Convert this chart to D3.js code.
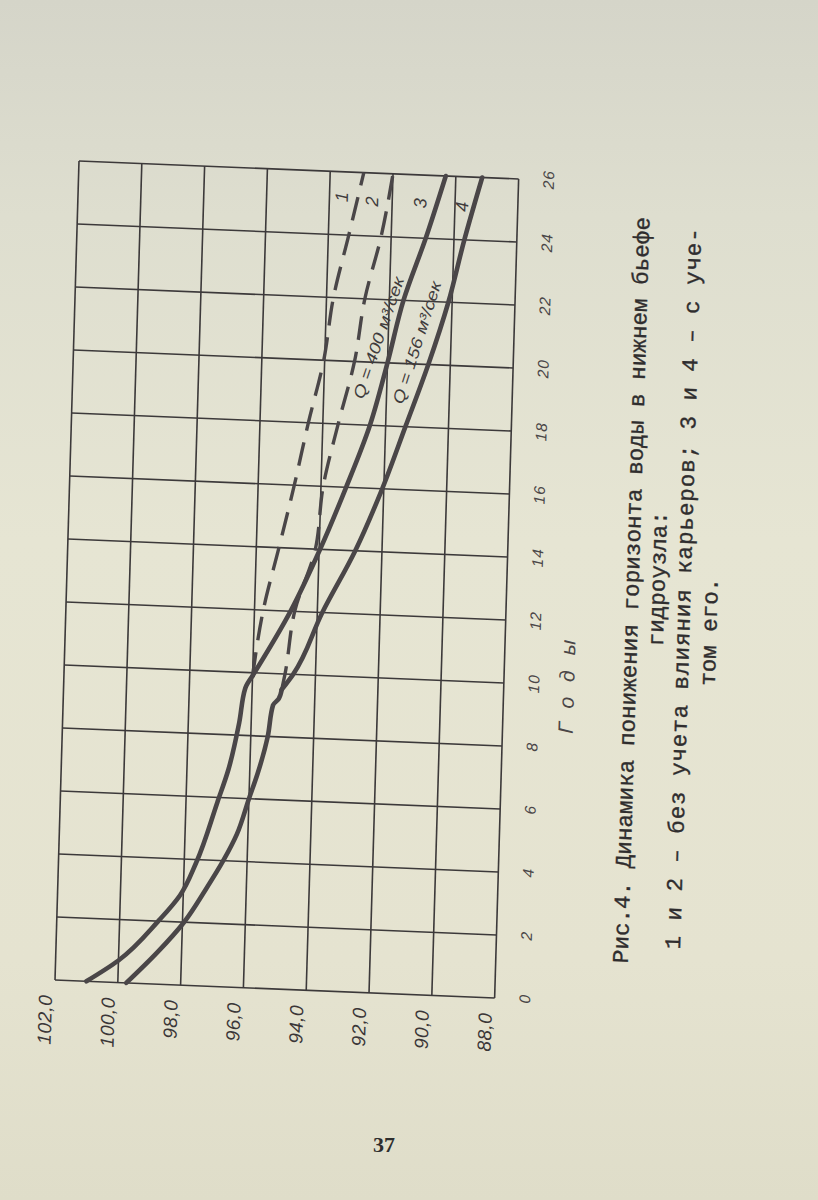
<!DOCTYPE html>
<html><head><meta charset="utf-8">
<script src="https://cdn.jsdelivr.net/npm/d3@7"></script>
<style>html,body{margin:0;padding:0;background:#e4e3d1;} svg{display:block}</style>
</head><body><svg id="c" width="818" height="1200"></svg>
<script>
// ---- data ----
const yearTicks = [0,2,4,6,8,10,12,14,16,18,20,22,24,26];
const levelTicks = [102,100,98,96,94,92,90,88];
const levelTickLabels = ["102,0","100,0","98,0","96,0","94,0","92,0","90,0","88,0"];
const axisTitle = "Годы";

// curve 3 (solid) – upper line, kink at 9.9 where dashed 1 leaves
const curve3Years  = [0,0.7,2,2.85,3.9,5.85,6.9,8.4,9.5,9.9,12,14,16,18,20,22,24,26];
const curve3Levels = [101.0,100.0,98.77,98.1,97.62,97.0,96.68,96.38,96.22,96.0,94.85,93.97,93.2,92.5,92.0,91.55,90.9,90.32];
const curve3Kink = 9.9;
// curve 1 (dashed) – branches from curve 3
const curve1Years  = [9.9,12,14,16,18,20,22,24,26];
const curve1Levels = [96.0,95.72,95.28,94.85,94.46,94.03,93.78,93.35,92.93];
// curve 4 (solid) – lower line, kink at 9.5 where dashed 2 leaves
const curve4Years  = [0,1,2,3.05,4,4.86,6,6.8,8,9.0,9.2,9.5,10,12,14,16,18,20,22,24,26];
const curve4Levels = [99.73,98.78,97.95,97.3,96.76,96.35,96.0,95.75,95.46,95.32,95.15,95.06,94.71,93.84,92.85,92.05,91.37,90.70,90.12,89.67,89.16];
const curve4Kink = 9.5;
// curve 2 (dashed) – branches from curve 4
const curve2Years  = [9.5,10,12,14,16,18,20,22,24,26];
const curve2Levels = [95.06,94.97,94.72,94.12,93.93,93.51,93.05,92.78,92.32,92.0];

const curveNames = ["1","2","3","4"];
const curveNameYears = [25.2,25.1,25.1,25.05];
const curveNameLevels = [93.61,92.65,91.11,89.78];

const flowLabels = ["Q = 400 м³/сек","Q = 156 м³/сек"];
const flowLabelFrom = [[18.77,92.93],[18.68,91.66]];
const flowLabelTo   = [[22.8,91.69],[22.69,90.51]];

const captionLines = [
  "Рис.4. Динамика понижения горизонта воды в нижнем бьефе",
  "гидроузла:",
  "1 и 2 – без учета влияния карьеров; 3 и 4 – с уче-",
  "том его."
];
const pageNumber = "37";

// ---- drawing ----
const svg = d3.select("#c");
const W = 820, H = 440;
const ink = "#3c393a", curveInk = "#4a4648";

const defs = svg.append("defs");
const grad = defs.append("linearGradient").attr("id","paper").attr("x1",0).attr("y1",0).attr("x2",0).attr("y2",1);
[[0,"#d5d5c9"],[0.18,"#dedecf"],[0.45,"#e6e5d3"],[0.8,"#e5e3d0"],[1,"#dfddc9"]].forEach(([o,c])=>grad.append("stop").attr("offset",o).attr("stop-color",c));
svg.append("rect").attr("width",818).attr("height",1200).attr("fill","url(#paper)");

const g = svg.append("g").attr("transform","matrix(0.02927,-0.99878,0.99916,0.04087,55,980)");

const x = d3.scaleLinear().domain([0,26]).range([0,W]);
const y = d3.scaleLinear().domain([88,102]).range([H,0]);

// grid
const grid = g.append("g").attr("stroke",ink).attr("stroke-width",1.6).attr("fill","none");
grid.selectAll(".gy").data(yearTicks).join("line")
  .attr("x1",d=>x(d)).attr("x2",d=>x(d)).attr("y1",y(102)).attr("y2",y(88));
grid.selectAll(".gl").data(levelTicks).join("line")
  .attr("x1",x(0)).attr("x2",x(26)).attr("y1",d=>y(d)).attr("y2",d=>y(d));

// axes (labels only)
const yAxis = g.append("g").call(d3.axisLeft(y).tickValues(levelTicks).tickSize(0)
    .tickFormat((d,i)=>levelTickLabels[i]));
yAxis.select(".domain").remove();
yAxis.selectAll("text").attr("x",-15).attr("dy","-3px")
  .attr("font-family","Liberation Sans, Arial, sans-serif").attr("font-style","italic")
  .attr("font-size",19).attr("fill","#3a3637").attr("letter-spacing",0.5);

const xAxis = g.append("g").attr("transform",`translate(0,${H})`)
  .call(d3.axisBottom(x).tickValues(yearTicks).tickSize(0));
xAxis.select(".domain").remove();
xAxis.selectAll("text").attr("y",30).attr("dy","0.35em")
  .attr("font-family","Liberation Sans, Arial, sans-serif").attr("font-style","italic")
  .attr("font-size",15.5).attr("fill","#4a4647").attr("letter-spacing",1);

g.append("text").attr("x",x(10.2)).attr("y",H+63).attr("dy","0.35em")
  .attr("text-anchor","middle").attr("font-family","Liberation Sans, Arial, sans-serif")
  .attr("font-style","italic").attr("font-size",21).attr("letter-spacing",15)
  .attr("fill","#4a4647").text(axisTitle);

// curves
const line = d3.line().x(d=>x(d[0])).y(d=>y(d[1])).curve(d3.curveMonotoneX);
function zipped(ys, ls){ return ys.map((v,i)=>[v, ls[i]]); }
function drawSolid(ys, ls, kink){
  const pts = zipped(ys, ls);
  const pre = pts.filter(p=>p[0]<=kink), post = pts.filter(p=>p[0]>=kink);
  [pre, post].forEach(seg=>g.append("path").attr("d",line(seg)).attr("fill","none")
    .attr("stroke",curveInk).attr("stroke-width",4.6).attr("stroke-linecap","round").attr("stroke-linejoin","round"));
}
function drawDashed(ys, ls){
  g.append("path").attr("d",line(zipped(ys, ls))).attr("fill","none")
    .attr("stroke",curveInk).attr("stroke-width",3.4).attr("stroke-dasharray","24,12");
}
drawDashed(curve1Years, curve1Levels);
drawDashed(curve2Years, curve2Levels);
drawSolid(curve3Years, curve3Levels, curve3Kink);
drawSolid(curve4Years, curve4Levels, curve4Kink);

// curve numbers
g.selectAll(".cn").data(curveNames).join("text")
  .attr("x",(d,i)=>x(curveNameYears[i])).attr("y",(d,i)=>y(curveNameLevels[i])).attr("dy","0.35em")
  .attr("text-anchor","middle").attr("font-family","Liberation Sans, Arial, sans-serif")
  .attr("font-style","italic").attr("font-size",18).attr("fill","#3f3b3c").text(d=>d);

// flow labels along the curves
flowLabels.forEach((t,i)=>{
  const [a,b] = [flowLabelFrom[i], flowLabelTo[i]];
  const x1=x(a[0]), y1=y(a[1]), x2=x(b[0]), y2=y(b[1]);
  const ang = Math.atan2(y2-y1, x2-x1)*180/Math.PI;
  g.append("text").attr("transform",`translate(${(x1+x2)/2},${(y1+y2)/2}) rotate(${ang})`)
    .attr("dy","0.35em").attr("text-anchor","middle")
    .attr("font-family","Liberation Sans, Arial, sans-serif").attr("font-style","italic")
    .attr("font-size",16).attr("fill","#3f3b3c")
    .attr("textLength",128).attr("lengthAdjust","spacingAndGlyphs").text(t);
});

// caption (typewritten)
const capX = [40, 426, 56, 375];
const capAnchor = ["start","middle","start","middle"];
const capBase = [572, 598, 624, 651];
const capLen = [747, null, 722, null];
captionLines.forEach((t,i)=>{
  const tx = g.append("text").attr("x",capX[i]).attr("y",capBase[i]).attr("text-anchor",capAnchor[i])
    .attr("font-family","Liberation Mono, DejaVu Sans Mono, monospace").attr("font-size",22.5)
    .attr("fill","#2f2d2e").attr("stroke","#2f2d2e").attr("stroke-width",0.35).text(t);
  if(capLen[i]) tx.attr("textLength",capLen[i]).attr("lengthAdjust","spacing");
});

svg.append("text").attr("x",384).attr("y",1152).attr("text-anchor","middle")
  .attr("font-family","Liberation Serif, serif").attr("font-weight","bold").attr("font-size",22)
  .attr("fill","#2e2e2e").text(pageNumber);
</script></body></html>
